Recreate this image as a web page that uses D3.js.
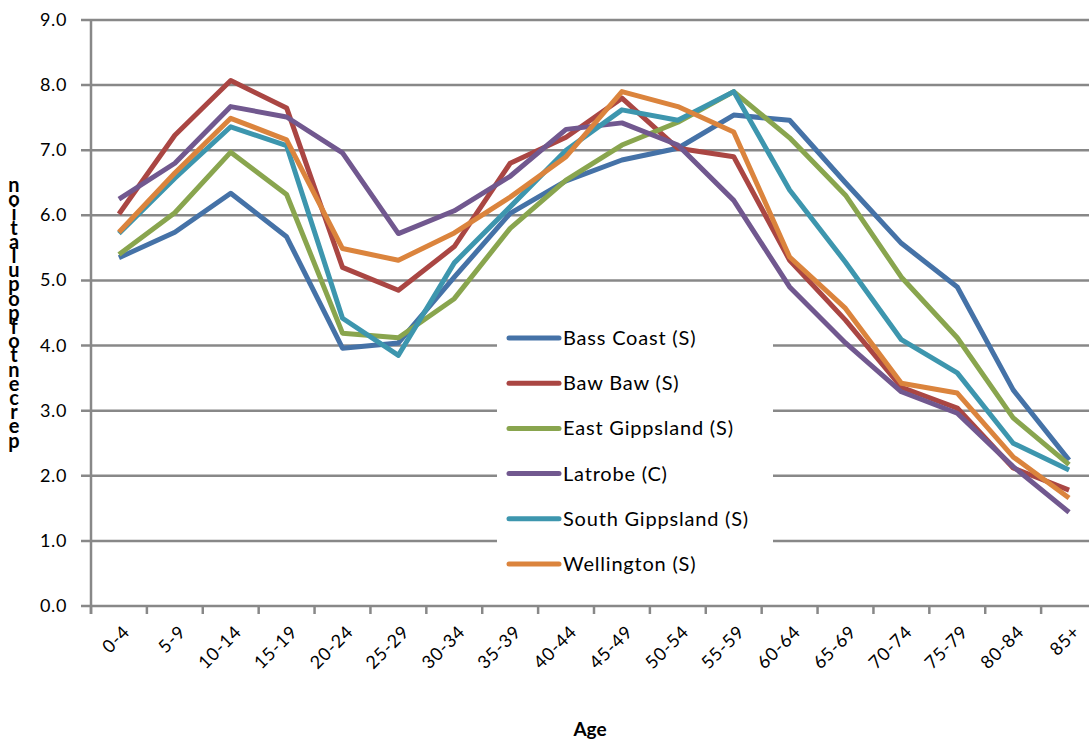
<!DOCTYPE html>
<html>
<head>
<meta charset="utf-8">
<script src="https://cdn.jsdelivr.net/npm/d3@7"></script>
<style>
  body { margin: 0; background: #fff; }
  svg { display: block; }
  text { font-family: Lato, "Open Sans", sans-serif; fill: #000; }
</style>
</head>
<body>
<svg id="chart" width="1089" height="742"></svg>
<script>
// age groups on the x axis
var ages = ["0-4", "5-9", "10-14", "15-19", "20-24", "25-29", "30-34", "35-39", "40-44",
            "45-49", "50-54", "55-59", "60-64", "65-69", "70-74", "75-79", "80-84", "85+"];

// per cent of population by age group
var bassCoast      = [5.35, 5.74, 6.34, 5.67, 3.96, 4.04, 5.05, 6.03, 6.53, 6.85, 7.03, 7.54, 7.46, 6.50, 5.57, 4.90, 3.32, 2.24];
var bawBaw         = [6.02, 7.23, 8.07, 7.65, 5.20, 4.85, 5.52, 6.80, 7.20, 7.80, 7.03, 6.90, 5.31, 4.39, 3.36, 3.04, 2.12, 1.78];
var eastGippsland  = [5.40, 6.04, 6.97, 6.32, 4.19, 4.12, 4.72, 5.80, 6.54, 7.08, 7.43, 7.90, 7.19, 6.31, 5.05, 4.12, 2.89, 2.17];
var latrobe        = [6.25, 6.80, 7.67, 7.51, 6.96, 5.72, 6.07, 6.60, 7.32, 7.42, 7.08, 6.23, 4.90, 4.04, 3.29, 2.96, 2.14, 1.44];
var southGippsland = [5.72, 6.57, 7.36, 7.07, 4.42, 3.85, 5.27, 6.13, 7.00, 7.62, 7.46, 7.90, 6.39, 5.28, 4.09, 3.58, 2.50, 2.09];
var wellington     = [5.74, 6.65, 7.49, 7.16, 5.49, 5.31, 5.73, 6.28, 6.90, 7.90, 7.67, 7.28, 5.36, 4.57, 3.42, 3.27, 2.29, 1.66];

var seriesNames  = ["Bass Coast (S)", "Baw Baw (S)", "East Gippsland (S)", "Latrobe (C)", "South Gippsland (S)", "Wellington (S)"];
var seriesValues = [bassCoast, bawBaw, eastGippsland, latrobe, southGippsland, wellington];
var colors       = ["#4572A7", "#AA4643", "#89A54E", "#71588F", "#3D96AE", "#DB843D"];

var yTicks = [0, 1, 2, 3, 4, 5, 6, 7, 8, 9];

var svg = d3.select("#chart");

var plotLeft = 91, plotTop = 20, plotBottom = 606, plotRight = 1097;

var x = d3.scaleBand().domain(ages).range([plotLeft, plotRight]).padding(0);
var y = d3.scaleLinear().domain([0, 9]).range([plotBottom, plotTop]);

var gridColor = "#888888";

// horizontal gridlines (they also stick out left as ticks)
svg.append("g")
  .selectAll("line")
  .data(yTicks)
  .join("line")
    .attr("x1", plotLeft - 10)
    .attr("x2", 1089)
    .attr("y1", d => y(d))
    .attr("y2", d => y(d))
    .attr("stroke", gridColor)
    .attr("stroke-width", 2.5);

// y axis line
svg.append("line")
  .attr("x1", plotLeft).attr("x2", plotLeft)
  .attr("y1", plotTop).attr("y2", plotBottom + 8)
  .attr("stroke", gridColor).attr("stroke-width", 2.5);

// x axis ticks at band edges
var xEdges = ages.map(d => x(d)).concat([plotRight]);
svg.append("g")
  .selectAll("line")
  .data(xEdges)
  .join("line")
    .attr("x1", d => d).attr("x2", d => d)
    .attr("y1", plotBottom).attr("y2", plotBottom + 8)
    .attr("stroke", gridColor).attr("stroke-width", 2.5);

// y tick labels
svg.append("g")
  .selectAll("text")
  .data(yTicks)
  .join("text")
    .attr("x", 67)
    .attr("y", d => y(d) + 6)
    .attr("text-anchor", "end")
    .style("font-size", "18px")
    .style("letter-spacing", "0.6px")
    .text(d => d3.format(".1f")(d));

// x tick labels, rotated
svg.append("g")
  .selectAll("text")
  .data(ages)
  .join("text")
    .attr("text-anchor", "end")
    .attr("transform", d => "translate(" + (x(d) + x.bandwidth() / 2 + 12) + "," + 633 + ") rotate(-45)")
    .style("font-size", "18px")
    .style("letter-spacing", "0.8px")
    .text(d => d);

// lines
var line = d3.line()
  .x((d, i) => x(ages[i]) + x.bandwidth() / 2)
  .y(d => y(d));

svg.append("g")
  .selectAll("path")
  .data(seriesValues)
  .join("path")
    .attr("d", d => line(d))
    .attr("fill", "none")
    .attr("stroke", (d, i) => colors[i])
    .attr("stroke-width", 5)
    .attr("stroke-linejoin", "round");

// legend
var legend = svg.append("g");
legend.append("rect")
  .attr("x", 497).attr("y", 316)
  .attr("width", 276).attr("height", 272)
  .attr("fill", "#fff");

var items = legend.selectAll("g")
  .data(seriesNames)
  .join("g")
    .attr("transform", (d, i) => "translate(0," + (338 + i * 45.2) + ")");

items.append("line")
  .attr("x1", 509).attr("x2", 559)
  .attr("y1", 0).attr("y2", 0)
  .attr("stroke", (d, i) => colors[i])
  .attr("stroke-width", 5)
  .attr("stroke-linecap", "round");

items.append("text")
  .attr("x", 563)
  .attr("y", 7)
  .style("font-size", "20px")
  .style("letter-spacing", "0.8px")
  .text(d => d);

// axis title
svg.append("text")
  .attr("x", 590)
  .attr("y", 736)
  .attr("text-anchor", "middle")
  .style("font-size", "19px")
  .style("font-weight", "bold")
  .text("Age");

// y axis title: upright letters stacked bottom-to-top, one text element
var yTitle = "percentofpopulation".split("").reverse();
svg.append("text")
  .attr("x", yTitle.map(() => 14).join(" "))
  .attr("y", yTitle.map((c, i) => 192 + i * 14.2).join(" "))
  .attr("text-anchor", "middle")
  .style("font-size", "20px")
  .style("font-weight", "bold")
  .text(yTitle.join(""));
</script>
</body>
</html>
